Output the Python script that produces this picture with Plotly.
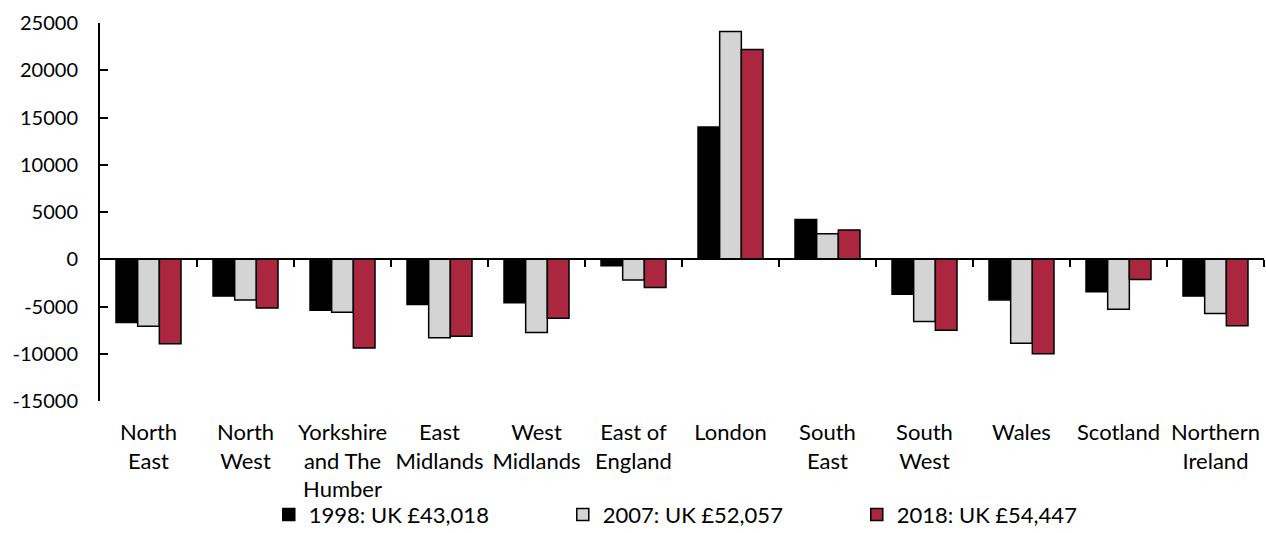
import plotly.graph_objects as go

regions = ["North<br>East", "North<br>West", "Yorkshire<br>and The<br>Humber", "East<br>Midlands",
           "West<br>Midlands", "East of<br>England", "London", "South<br>East", "South<br>West",
           "Wales", "Scotland", "Northern<br>Ireland"]
y1998 = [-6700, -3900, -5400, -4800, -4600, -700, 14000, 4200, -3700, -4300, -3450, -3900]
y2007 = [-7100, -4300, -5600, -8300, -7750, -2200, 24100, 2700, -6600, -8900, -5300, -5750]
y2018 = [-8950, -5150, -9400, -8150, -6250, -3000, 22200, 3100, -7500, -10000, -2150, -7050]
series_names = ["1998: UK £43,018", "2007: UK £52,057", "2018: UK £54,447"]
ytick_vals = [-15000, -10000, -5000, 0, 5000, 10000, 15000, 20000, 25000]
ytick_text = ["-15000", "-10000", "-5000", "0", "5000", "10000", "15000", "20000", "25000"]
colors = ["#000000", "#D4D4D4", "#AB263F"]

xpos = list(range(len(regions)))
fig = go.Figure()
for name, vals, col in zip(series_names, [y1998, y2007, y2018], colors):
    fig.add_trace(go.Bar(x=xpos, y=vals, name=name, marker=dict(color=col, line=dict(color="black", width=1.5))))

FONT = "Lato, 'Open Sans', sans-serif"
fig.update_layout(
    width=1266, height=533,
    margin=dict(l=100, r=2, t=23, b=132, autoexpand=False),
    plot_bgcolor="white", paper_bgcolor="white",
    barmode="group", bargap=0.33, bargroupgap=0,
    font=dict(family=FONT, size=20, color="black"),
    xaxis=dict(range=[-0.5, 11.5], tickmode="array", tickvals=xpos, ticktext=regions,
               showline=False, showgrid=False, zeroline=False, ticks="", ticklabelstandoff=16,
               tickfont=dict(size=22), automargin=False),
    xaxis2=dict(overlaying="x", anchor="free", position=0.375, range=[-0.5, 11.5],
                tickmode="array", tickvals=[i + 0.5 for i in xpos], ticks="outside", ticklen=7,
                tickwidth=2, tickcolor="black", showline=True, linecolor="black", linewidth=2,
                showticklabels=False, showgrid=False, zeroline=False, automargin=False),
    yaxis=dict(range=[-15000, 25000], tickmode="array", tickvals=ytick_vals, ticktext=ytick_text,
               showline=True, linecolor="black", linewidth=2,
               ticks="inside", ticklen=8, tickwidth=2, tickcolor="black", showgrid=False,
               zeroline=False, ticklabelstandoff=16, tickfont=dict(size=20), automargin=False),
    legend=dict(orientation="h", x=0.145, xanchor="left", y=-0.245, yanchor="top",
                entrywidth=249, entrywidthmode="pixels", itemwidth=30,
                bgcolor="rgba(0,0,0,0)",
                font=dict(size=22), traceorder="normal"),
    showlegend=True,
)
fig.add_trace(go.Scatter(x=[0], y=[0], xaxis="x2", mode="markers", marker=dict(opacity=0),
                         showlegend=False, hoverinfo="skip"))
fig.write_html("out.html")
